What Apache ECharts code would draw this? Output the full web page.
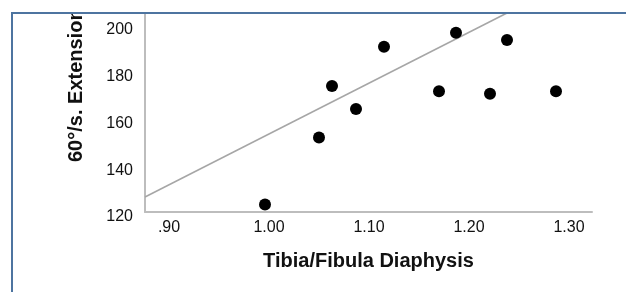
<!DOCTYPE html>
<html>
<head>
<meta charset="utf-8">
<script src="https://cdn.jsdelivr.net/npm/echarts@6/dist/echarts.min.js"></script>
<style>
  html, body { margin: 0; padding: 0; background: #fff; }
  #main { width: 626px; height: 292px; }
</style>
</head>
<body>
<div id="main"></div>
<script>
// 散点数据
var xValues = [0.996, 1.050, 1.063, 1.087, 1.115, 1.170, 1.187, 1.221, 1.238, 1.287];
var yValues = [123.2, 151.9, 173.9, 164.0, 190.7, 171.6, 196.7, 170.6, 193.6, 171.6];
// 拟合线两端
var fitLine = [[0.876, 126.4], [1.238, 205.1]];
// 刻度
var xTickValues = [0.9, 1.0, 1.1, 1.2, 1.3];
var xTickLabels = ['.90', '1.00', '1.10', '1.20', '1.30'];
var yTickValues = [120, 140, 160, 180, 200];
var yTickLabels = ['120', '140', '160', '180', '200'];

var xTitle = 'Tibia/Fibula Diaphysis';
var yTitle = '60°/s. Extension';

var font = "'Liberation Sans', Arial, sans-serif";
var textColor = '#111';
var frameColor = '#4d74a0';

var points = xValues.map(function (x, i) { return [x, yValues[i]]; });

function tickText(values, labels) {
  return function (v) {
    for (var i = 0; i < values.length; i++) {
      if (Math.abs(values[i] - v) < 1e-6) return labels[i];
    }
    return '';
  };
}

var myChart = echarts.init(document.getElementById('main'), null, { renderer: 'canvas' });
var option = {
  animation: false,
  backgroundColor: '#fff',
  grid: { left: 145, right: 34, top: 13, bottom: 80 },
  xAxis: {
    type: 'value',
    min: 0.876,
    max: 1.323,
    name: xTitle,
    nameLocation: 'middle',
    nameGap: 39,
    nameTextStyle: { fontFamily: font, fontSize: 20, fontWeight: 'bold', color: textColor },
    axisLine: { show: true, lineStyle: { color: '#bdbdbd', width: 2 } },
    axisTick: { show: false },
    splitLine: { show: false },
    axisLabel: {
      customValues: xTickValues,
      formatter: tickText(xTickValues, xTickLabels),
      margin: 8,
      fontFamily: font,
      fontSize: 16,
      color: textColor
    }
  },
  yAxis: {
    type: 'value',
    min: 120,
    max: 205.1,
    axisLine: { show: true, lineStyle: { color: '#bdbdbd', width: 2 } },
    axisTick: { show: false },
    splitLine: { show: false },
    axisLabel: {
      customValues: yTickValues,
      formatter: tickText(yTickValues, yTickLabels),
      margin: 12,
      verticalAlign: 'top',
      lineHeight: 10,
      fontFamily: font,
      fontSize: 16,
      color: textColor
    }
  },
  series: [
    {
      type: 'line',
      data: fitLine,
      symbol: 'none',
      lineStyle: { color: '#a6a6a6', width: 1.5 },
      silent: true,
      z: 1
    },
    {
      type: 'scatter',
      data: points,
      symbol: 'circle',
      symbolSize: 12,
      itemStyle: { color: '#000', opacity: 1 },
      z: 2
    }
  ],
  graphic: [
    {
      type: 'text',
      x: 76,
      y: 162,
      rotation: Math.PI / 2,
      z: 10,
      style: {
        text: yTitle,
        font: 'bold 20px ' + font,
        fill: textColor,
        align: 'left',
        verticalAlign: 'middle'
      }
    },
    // 上方裁切区
    { type: 'rect', z: 20, shape: { x: 0, y: 0, width: 626, height: 13 }, style: { fill: '#fff' } },
    { type: 'line', z: 21, shape: { x1: 11, y1: 13, x2: 626, y2: 13 }, style: { stroke: frameColor, lineWidth: 2 } },
    { type: 'line', z: 21, shape: { x1: 12, y1: 12, x2: 12, y2: 292 }, style: { stroke: frameColor, lineWidth: 2 } }
  ]
};
myChart.setOption(option);
</script>
</body>
</html>
